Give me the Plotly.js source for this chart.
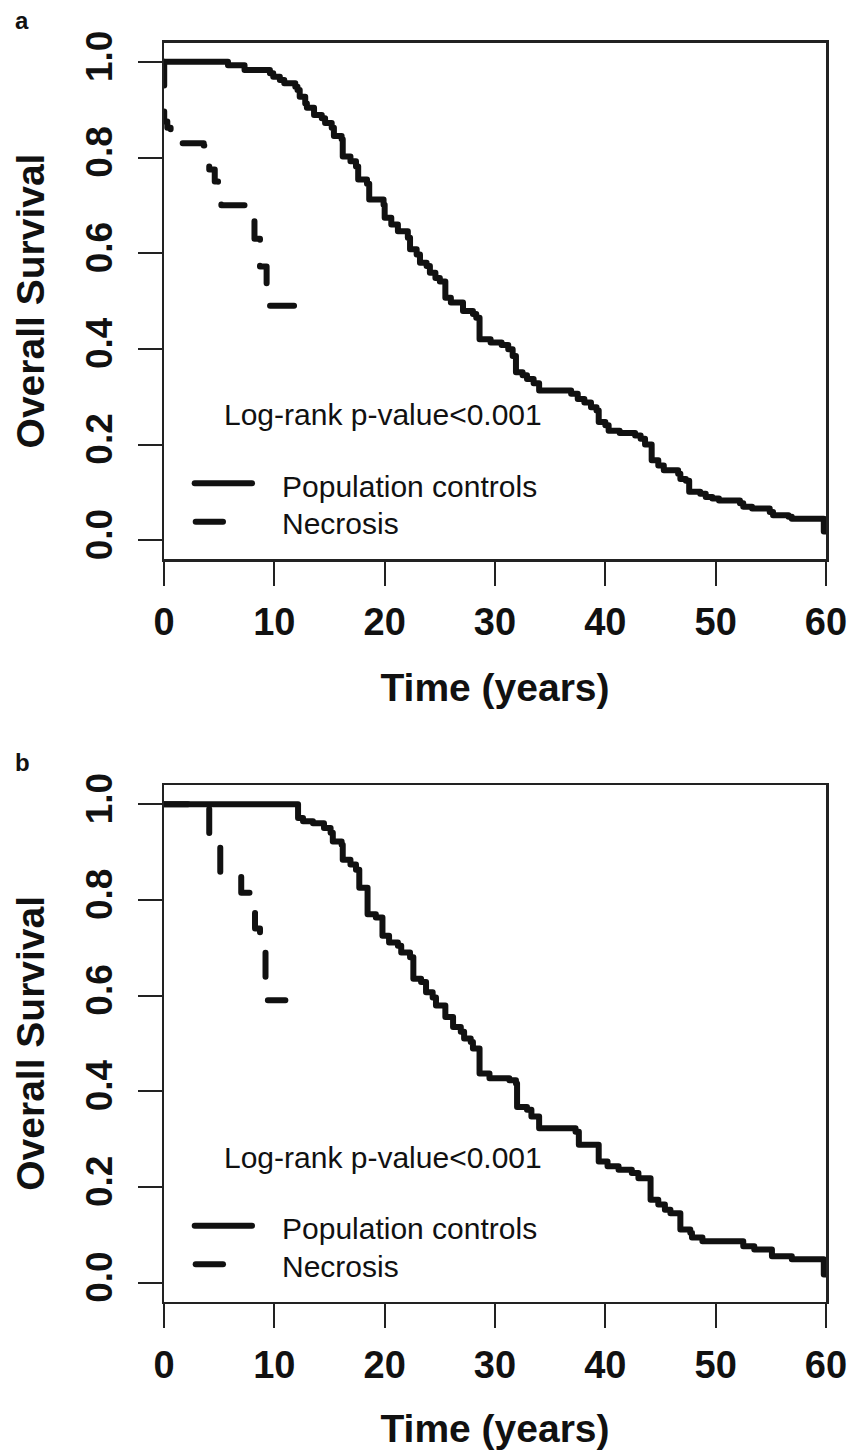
<!DOCTYPE html>
<html>
<head>
<meta charset="utf-8">
<script src="https://cdn.plot.ly/plotly-3.0.1.min.js"></script>
<style>
  html, body { margin: 0; padding: 0; background: #fff; }
  #chart { width: 863px; height: 1450px; }
  .scatterlayer .js-line { stroke-linecap: round; stroke-linejoin: round; }
  .shapelayer path { stroke-linecap: round; }
</style>
</head>
<body>
<div id="chart"></div>
<script>
// ---- Panel a: Population controls ----
const timeA_pop = [0, 5.8, 7.3, 9.6, 9.9, 10.5, 10.9, 11.9, 12.1, 12.3, 12.8, 12.95, 13.6, 14.3, 14.6, 15.2, 15.4, 16.1, 16.2, 16.9, 17.4, 17.6, 18.4, 18.6, 19.9, 20.0, 20.6, 21.2, 22.1, 22.3, 22.9, 23.2, 23.8, 24.1, 24.6, 25.0, 25.5, 26.0, 27.1, 28.0, 28.3, 28.6, 29.6, 30.6, 31.2, 31.6, 31.9, 32.5, 32.9, 33.5, 34.0, 36.9, 37.5, 38.1, 38.7, 39.2, 39.4, 40.0, 40.3, 41.3, 42.7, 43.2, 43.6, 44.2, 44.8, 45.3, 46.6, 46.8, 47.3, 47.6, 48.6, 49.1, 49.7, 50.3, 52.2, 52.5, 53.3, 54.9, 55.2, 56.6, 56.9, 59.8, 60];
const survA_pop = [1.0, 0.993, 0.983, 0.976, 0.969, 0.962, 0.955, 0.948, 0.941, 0.927, 0.913, 0.904, 0.889, 0.882, 0.872, 0.862, 0.845, 0.838, 0.802, 0.792, 0.781, 0.754, 0.745, 0.712, 0.701, 0.674, 0.660, 0.646, 0.632, 0.608, 0.597, 0.580, 0.573, 0.559, 0.548, 0.541, 0.507, 0.497, 0.479, 0.473, 0.465, 0.420, 0.413, 0.408, 0.399, 0.385, 0.351, 0.345, 0.337, 0.328, 0.313, 0.306, 0.295, 0.288, 0.278, 0.271, 0.247, 0.240, 0.229, 0.224, 0.219, 0.212, 0.200, 0.167, 0.156, 0.146, 0.139, 0.128, 0.124, 0.101, 0.097, 0.090, 0.087, 0.083, 0.077, 0.070, 0.066, 0.059, 0.052, 0.049, 0.045, 0.018, 0.018];
// ---- Panel a: Necrosis ----
const timeA_nec = [0, 0.02, 0.3, 0.6, 0.9, 1.3, 3.6, 3.9, 4.1, 4.6, 4.9, 5.05, 5.2, 7.5, 8.2, 8.7, 9.3, 11.8];
const survA_nec = [1.0, 0.875, 0.862, 0.853, 0.845, 0.83, 0.825, 0.815, 0.775, 0.75, 0.737, 0.72, 0.70, 0.675, 0.63, 0.572, 0.49, 0.49];
// ---- Panel b: Population controls ----
const timeB_pop = [0, 12.15, 12.6, 13.5, 14.5, 15.1, 15.3, 16.1, 16.2, 16.9, 17.4, 17.7, 18.45, 19.2, 19.8, 20.4, 21.2, 21.5, 22.3, 22.6, 23.3, 23.75, 24.35, 24.65, 25.5, 26.2, 26.9, 27.2, 27.8, 28.0, 28.6, 29.5, 31.3, 31.9, 32.0, 32.9, 33.3, 34.0, 37.3, 37.6, 39.4, 40.2, 41.2, 42.4, 43.0, 44.1, 44.8, 45.4, 45.9, 46.8, 47.7, 47.85, 48.8, 52.5, 53.5, 55.1, 56.9, 59.8, 60];
const survB_pop = [1.0, 0.971, 0.964, 0.960, 0.950, 0.940, 0.922, 0.915, 0.884, 0.874, 0.863, 0.825, 0.770, 0.763, 0.725, 0.711, 0.704, 0.690, 0.680, 0.635, 0.628, 0.607, 0.596, 0.579, 0.555, 0.534, 0.524, 0.510, 0.503, 0.489, 0.437, 0.427, 0.423, 0.416, 0.367, 0.361, 0.347, 0.3225, 0.315, 0.288, 0.253, 0.243, 0.236, 0.229, 0.218, 0.173, 0.163, 0.152, 0.145, 0.111, 0.104, 0.094, 0.0866, 0.076, 0.069, 0.055, 0.0485, 0.017, 0.017];
// ---- Panel b: Necrosis ----
const timeB_nec = [0, 4.1, 5.1, 7.0, 8.25, 8.7, 9.2, 11.0];
const survB_nec = [1.0, 0.91, 0.848, 0.815, 0.74, 0.69, 0.59, 0.59];

const xTicks = [0, 10, 20, 30, 40, 50, 60];
const yTicks = [0, 0.2, 0.4, 0.6, 0.8, 1.0];
const seriesNames = ['Population controls', 'Necrosis'];
const panelLabels = ['a', 'b'];
const pText = 'Log-rank p-value<0.001';
const xTitle = 'Time (years)';
const yTitle = 'Overall Survival';

const W = 863, H = 1450;
const px = v => v / W;
const py = v => 1 - v / H;
const INK = '#111111';
const FONT = 'Liberation Sans, Arial, Helvetica, sans-serif';

function trace(x, y, xa, ya, dashed) {
  return {
    x: x, y: y, xaxis: xa, yaxis: ya, type: 'scatter', mode: 'lines',
    line: { shape: 'hv', color: INK, width: 6, dash: dashed ? '24px,26px' : 'solid' },
    showlegend: false, hoverinfo: 'skip'
  };
}

const data = [
  trace(timeA_nec, survA_nec, 'x', 'y', true),
  trace(timeA_pop, survA_pop, 'x', 'y', false),
  trace(timeB_nec, survB_nec, 'x2', 'y2', true),
  trace(timeB_pop, survB_pop, 'x2', 'y2', false)
];

function xaxis(domainAnchor) {
  return {
    domain: [px(164), px(826)], anchor: domainAnchor, range: [0, 60],
    showline: true, mirror: true, linecolor: '#222', linewidth: 2.5,
    ticks: 'outside', ticklen: 24, tickwidth: 2, tickcolor: '#222',
    tickvals: xTicks, ticktext: xTicks.map(String),
    tickfont: { family: FONT, size: 38, color: INK, weight: 'bold' },
    ticklabelstandoff: 4,
    showgrid: false, zeroline: false, automargin: false,
    title: { text: xTitle, font: { family: FONT, size: 39, color: INK, weight: 'bold' }, standoff: 32 }
  };
}
function yaxis(domain, anchor) {
  return {
    domain: domain, anchor: anchor, range: [-0.04, 1.04],
    showline: true, mirror: true, linecolor: '#222', linewidth: 2.5,
    ticks: 'outside', ticklen: 24, tickwidth: 2, tickcolor: '#222',
    tickvals: yTicks, ticktext: yTicks.map(v => v.toFixed(1)), tickangle: -90,
    tickfont: { family: FONT, size: 37, color: INK, weight: 'bold' },
    ticklabelstandoff: 11,
    showgrid: false, zeroline: false, automargin: false,
    title: { text: yTitle, font: { family: FONT, size: 39, color: INK, weight: 'bold' }, standoff: 22 }
  };
}

// panel offsets (pixels): panel a plot frame top 42.7, panel b 785
const panels = [
  { top: 0, label: panelLabels[0] },
  { top: 742.5, label: panelLabels[1] }
];

const annotations = [];
const shapes = [];
panels.forEach((p, i) => {
  const o = p.top;
  annotations.push({ xref: 'paper', yref: 'paper', x: px(13), y: py(20 + o), xanchor: 'left', yanchor: 'middle',
    text: p.label, showarrow: false, font: { family: FONT, size: 24, color: INK, weight: 'bold' } });
  annotations.push({ xref: 'paper', yref: 'paper', x: px(222), y: py(414 + o + (i ? 1 : 0)), xanchor: 'left', yanchor: 'middle',
    text: pText, showarrow: false, font: { family: FONT, size: 30, color: INK } });
  annotations.push({ xref: 'paper', yref: 'paper', x: px(280), y: py(486 + o), xanchor: 'left', yanchor: 'middle',
    text: seriesNames[0], showarrow: false, font: { family: FONT, size: 30, color: INK } });
  annotations.push({ xref: 'paper', yref: 'paper', x: px(280), y: py(524 + o), xanchor: 'left', yanchor: 'middle',
    text: seriesNames[1], showarrow: false, font: { family: FONT, size: 30, color: INK } });
  shapes.push({ type: 'line', xref: 'paper', yref: 'paper', x0: px(194.7), x1: px(252), y0: py(483.3 + o), y1: py(483.3 + o),
    line: { color: INK, width: 6 } });
  shapes.push({ type: 'line', xref: 'paper', yref: 'paper', x0: px(195.7), x1: px(223), y0: py(521.7 + o), y1: py(521.7 + o),
    line: { color: INK, width: 6 } });
});

const layout = {
  width: W, height: H, autosize: false,
  margin: { l: 0, r: 0, t: 0, b: 0 },
  paper_bgcolor: '#ffffff', plot_bgcolor: '#ffffff',
  font: { family: FONT, color: INK },
  showlegend: false,
  xaxis: xaxis('y'),
  yaxis: yaxis([py(559.3), py(42.7)], 'x'),
  xaxis2: xaxis('y2'),
  yaxis2: yaxis([py(1301.7), py(785)], 'x2'),
  annotations: annotations,
  shapes: shapes
};

Plotly.newPlot('chart', data, layout, { displayModeBar: false, staticPlot: true });
</script>
</body>
</html>
